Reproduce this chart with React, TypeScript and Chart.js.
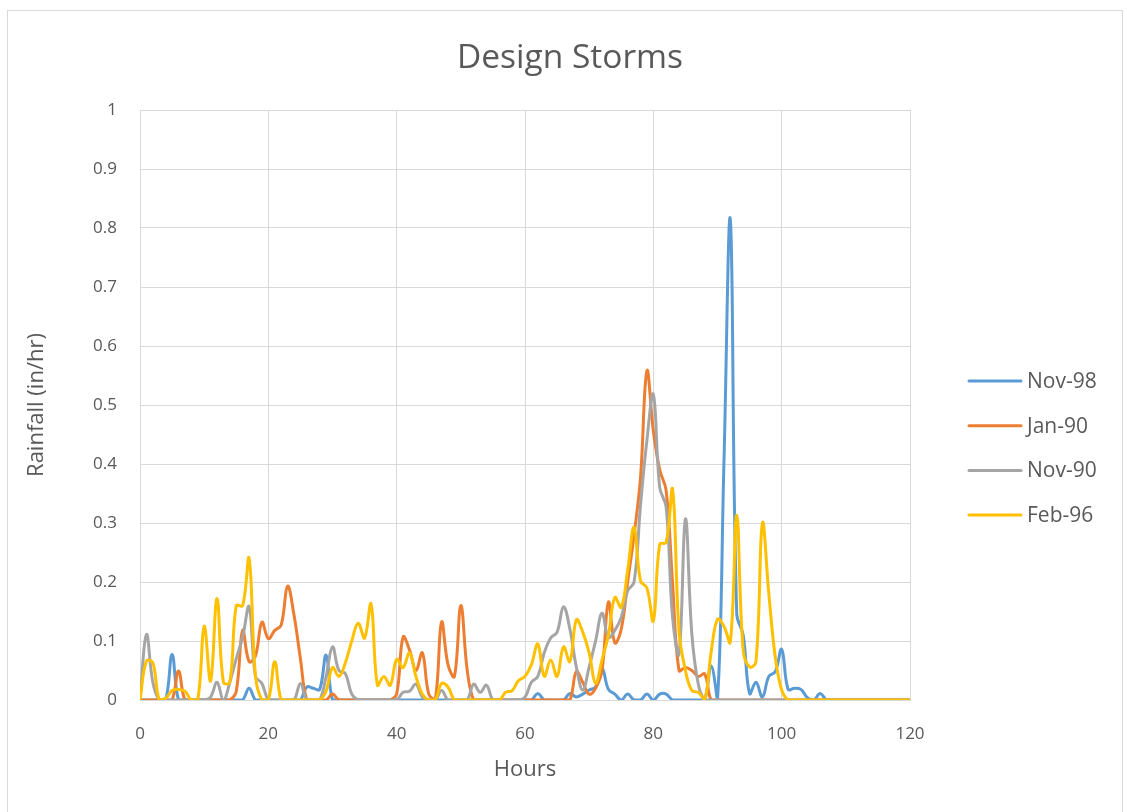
import React, { useEffect, useRef } from "react";
import { Chart, registerables } from "chart.js";

Chart.register(...registerables);

const TITLE = "Design Storms";
const X_TITLE = "Hours";
const Y_TITLE = "Rainfall (in/hr)";
const SERIES_NAMES = ["Nov-98", "Jan-90", "Nov-90", "Feb-96"];
const COLORS = ["#5B9BD5", "#ED7D31", "#A5A5A5", "#FFC000"];
const TEXT_COLOR = "#595959";
const GRID_COLOR = "#D9D9D9";
const FONT = "'Open Sans', 'DejaVu Sans', sans-serif";

const HOURS = Array.from({ length: 121 }, (_, i) => i);

const NOV_98 = [
  0, 0, 0, 0, 0, 0.077, 0, 0, 0, 0,
  0, 0, 0, 0, 0, 0, 0, 0.02, 0, 0,
  0, 0, 0, 0, 0, 0, 0.022, 0.02, 0.018, 0.076,
  0, 0, 0, 0, 0, 0, 0, 0, 0, 0,
  0, 0, 0, 0, 0, 0, 0, 0, 0, 0,
  0, 0, 0, 0, 0, 0, 0, 0, 0, 0,
  0, 0, 0.011, 0, 0, 0, 0, 0.011, 0.005, 0.01,
  0.017, 0.022, 0.054, 0.018, 0.01, 0, 0.01, 0, 0, 0.01,
  0, 0.01, 0.01, 0, 0, 0, 0, 0, 0, 0.058,
  0, 0.4, 0.814, 0.146, 0.11, 0.011, 0.03, 0.005, 0.04, 0.048,
  0.086, 0.018, 0.02, 0.018, 0.004, 0, 0.011, 0, 0, 0,
  0, 0, 0, 0, 0, 0, 0, 0, 0, 0,
  0,
];

const JAN_90 = [
  0, 0, 0, 0, 0, 0, 0.049, 0, 0, 0,
  0, 0, 0, 0, 0, 0.015, 0.118, 0.065, 0.075, 0.132,
  0.104, 0.118, 0.127, 0.193, 0.144, 0.07, 0, 0, 0, 0,
  0.01, 0, 0, 0, 0, 0, 0, 0, 0, 0,
  0.01, 0.107, 0.085, 0.05, 0.08, 0.01, 0, 0.132, 0.06, 0.04,
  0.16, 0.05, 0, 0, 0, 0, 0, 0, 0, 0,
  0, 0, 0, 0, 0, 0, 0, 0, 0.048, 0.03,
  0.01, 0.02, 0.05, 0.166, 0.097, 0.12, 0.2, 0.28, 0.377, 0.558,
  0.456, 0.39, 0.355, 0.197, 0.05, 0.055, 0.05, 0.04, 0.044, 0,
  0, 0, 0, 0, 0, 0, 0, 0, 0, 0,
  0, 0, 0, 0, 0, 0, 0, 0, 0, 0,
  0, 0, 0, 0, 0, 0, 0, 0, 0, 0,
  0,
];

const NOV_90 = [
  0, 0.111, 0.03, 0, 0, 0, 0, 0, 0, 0,
  0, 0.005, 0.03, 0, 0.03, 0.07, 0.107, 0.158, 0.04, 0.028,
  0, 0, 0, 0, 0, 0.028, 0, 0, 0, 0.04,
  0.09, 0.05, 0.045, 0.01, 0, 0, 0, 0, 0, 0,
  0, 0.013, 0.015, 0.027, 0.005, 0, 0, 0.016, 0, 0,
  0, 0, 0.027, 0.013, 0.025, 0, 0, 0, 0, 0,
  0.005, 0.03, 0.04, 0.08, 0.105, 0.115, 0.158, 0.12, 0.056, 0.017,
  0.056, 0.1, 0.147, 0.106, 0.118, 0.14, 0.185, 0.2, 0.33, 0.44,
  0.518, 0.36, 0.327, 0.14, 0.078, 0.307, 0.112, 0.027, 0, 0,
  0, 0, 0, 0, 0, 0, 0, 0, 0, 0,
  0, 0, 0, 0, 0, 0, 0, 0, 0, 0,
  0, 0, 0, 0, 0, 0, 0, 0, 0, 0,
  0,
];

const FEB_96 = [
  0, 0.066, 0.063, 0, 0.003, 0.016, 0.018, 0.015, 0, 0,
  0.125, 0.032, 0.172, 0.03, 0.03, 0.16, 0.16, 0.24, 0.04, 0,
  0, 0.065, 0, 0, 0, 0, 0, 0, 0, 0.015,
  0.055, 0.04, 0.063, 0.1, 0.13, 0.105, 0.163, 0.025, 0.04, 0.025,
  0.069, 0.055, 0.08, 0.04, 0.01, 0, 0, 0.028, 0.022, 0,
  0, 0, 0, 0, 0, 0, 0, 0.013, 0.016, 0.033,
  0.04, 0.06, 0.095, 0.04, 0.068, 0.04, 0.09, 0.065, 0.136, 0.115,
  0.08, 0.028, 0.068, 0.11, 0.174, 0.157, 0.22, 0.293, 0.202, 0.19,
  0.134, 0.264, 0.267, 0.357, 0.117, 0.05, 0.016, 0.013, 0, 0.08,
  0.137, 0.125, 0.098, 0.313, 0.085, 0.056, 0.065, 0.3, 0.18, 0.073,
  0.017, 0, 0, 0, 0, 0, 0, 0, 0, 0,
  0, 0, 0, 0, 0, 0, 0, 0, 0, 0,
  0,
];

const SERIES = [NOV_98, JAN_90, NOV_90, FEB_96];

const X_MIN = 0;
const X_MAX = 120;
const X_STEP = 20;
const Y_MIN = 0;
const Y_MAX = 1;
const Y_STEP = 0.1;

const legendPlugin = {
  id: "customLegend",
  afterDraw(chart: any) {
    const ctx = chart.ctx;
    ctx.save();
    ctx.font = `21px ${FONT}`;
    ctx.textBaseline = "middle";
    ctx.textAlign = "left";
    SERIES_NAMES.forEach((name, i) => {
      const y = 381 + i * 44.7;
      ctx.strokeStyle = COLORS[i];
      ctx.lineWidth = 3;
      ctx.lineCap = "round";
      ctx.beginPath();
      ctx.moveTo(969, y);
      ctx.lineTo(1021, y);
      ctx.stroke();
      ctx.fillStyle = TEXT_COLOR;
      ctx.fillText(name, 1027, y + 1);
    });
    ctx.restore();
  },
};

export default function App() {
  const canvasRef = useRef<HTMLCanvasElement | null>(null);

  useEffect(() => {
    if (!canvasRef.current) return;
    Chart.defaults.font.family = FONT;
    Chart.defaults.color = TEXT_COLOR;
    const datasets = SERIES.map((values, i) => ({
      label: SERIES_NAMES[i],
      data: HOURS.map((h, j) => ({ x: h, y: values[j] })),
      borderColor: COLORS[i],
      backgroundColor: COLORS[i],
      borderWidth: 3,
      pointRadius: 0,
      tension: 0.4,
      fill: false,
      order: SERIES.length - 1 - i,
    }));
    const chart = new Chart(canvasRef.current, {
      type: "line",
      data: { datasets },
      options: {
        animation: false,
        responsive: false,
        devicePixelRatio: 1,
        layout: { padding: { left: 13, right: 0, top: 0, bottom: 0 } },
        plugins: {
          legend: { display: false },
          tooltip: { enabled: false },
          title: {
            display: true,
            text: TITLE,
            color: TEXT_COLOR,
            font: { size: 33.5, weight: "normal", family: FONT },
            padding: { top: 37.9, bottom: 31.9 },
          },
        },
        scales: {
          x: {
            type: "linear",
            min: X_MIN,
            max: X_MAX,
            ticks: {
              stepSize: X_STEP,
              color: TEXT_COLOR,
              font: { size: 17, family: FONT },
              padding: 24,
              maxRotation: 0,
            },
            grid: { color: GRID_COLOR, lineWidth: 1, drawTicks: false },
            border: { display: true, color: GRID_COLOR },
            title: {
              display: true,
              text: X_TITLE,
              color: TEXT_COLOR,
              font: { size: 22, family: FONT },
              padding: { top: 0, bottom: 28.8 },
            },
            afterFit(scale: any) {
              scale.height = 112;
            },
          },
          y: {
            type: "linear",
            position: "left",
            min: Y_MIN,
            max: Y_MAX,
            ticks: {
              stepSize: Y_STEP,
              color: TEXT_COLOR,
              font: { size: 17, family: FONT },
              padding: 23,
              callback: (v: any) => String(Math.round(Number(v) * 10) / 10),
            },
            grid: { color: GRID_COLOR, lineWidth: 1, drawTicks: false },
            border: { display: false },
            title: {
              display: true,
              text: Y_TITLE,
              color: TEXT_COLOR,
              font: { size: 22, family: FONT },
              padding: { top: 10.8, bottom: 0 },
            },
            afterFit(scale: any) {
              scale.width = 127;
            },
          },
          legendSpace: {
            type: "linear",
            position: "right",
            display: true,
            min: 0,
            max: 1,
            ticks: { display: false },
            grid: { display: false, drawTicks: false },
            border: { display: false },
            afterFit(scale: any) {
              scale.width = 217;
            },
          },
        },
      },
      plugins: [legendPlugin],
    } as any);
    return () => chart.destroy();
  }, []);

  return (
    <div style={{ position: "fixed", left: 0, top: 0, width: 1127, height: 812, background: "#fff" }}>
      <canvas ref={canvasRef} width={1127} height={812} style={{ position: "absolute", left: 0, top: 0, width: 1127, height: 812 }} />
      <div
        style={{
          position: "absolute",
          left: 7,
          top: 10,
          width: 1116,
          height: 820,
          border: "1px solid #D9D9D9",
          boxSizing: "border-box",
          pointerEvents: "none",
        }}
      />
    </div>
  );
}
